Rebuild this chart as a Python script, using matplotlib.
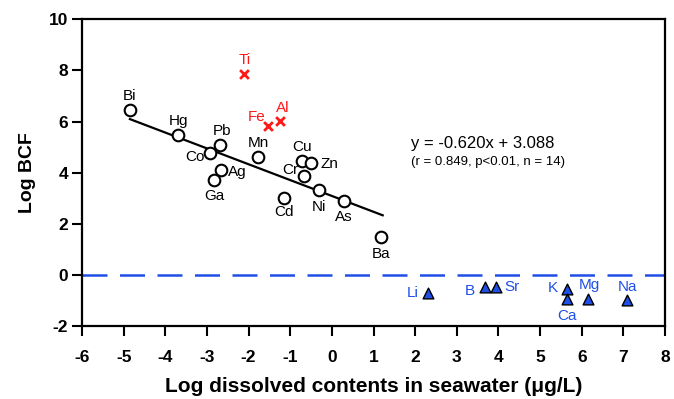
import matplotlib
matplotlib.use("Agg")
import matplotlib.pyplot as plt

plt.rcParams['font.family'] = ['Liberation Sans', 'DejaVu Sans']

# Heavy metals fitted by regression (black open circles)
fit_names = ["Bi", "Hg", "Pb", "Co", "Mn", "Ag", "Ga", "Cu", "Zn", "Cr", "Ni", "As", "Cd", "Ba"]
fit_x = [-4.85, -3.69, -2.68, -2.92, -1.77, -2.66, -2.82, -0.71, -0.49, -0.68, -0.32, 0.28, -1.16, 1.19]
fit_y = [6.45, 5.48, 5.09, 4.77, 4.62, 4.11, 3.72, 4.46, 4.38, 3.87, 3.33, 2.90, 3.01, 1.49]

# Outliers (red crosses)
out_names = ["Ti", "Fe", "Al"]
out_x = [-2.10, -1.53, -1.24]
out_y = [7.86, 5.83, 6.02]

# Major elements (blue triangles)
maj_names = ["Li", "B", "Sr", "K", "Ca", "Mg", "Na"]
maj_x = [2.30, 3.67, 3.94, 5.64, 5.64, 6.15, 7.09]
maj_y = [-0.70, -0.46, -0.46, -0.54, -0.93, -0.93, -1.00]

slope = -0.620
intercept = 3.088
fit_range = [-4.85, 1.22]

xticks = list(range(-6, 9))
yticks = list(range(-2, 11, 2))

BLUE = "#1f4fe6"
RED = "#ff1a1a"

fig = plt.figure(figsize=(6.74, 3.99), dpi=100)
ax = fig.add_axes([0.1217, 0.183, 0.865, 0.7686])

ax.axhline(0, color=BLUE, lw=1.8, dashes=(10, 5), zorder=1)

lx = fit_range
ly = [slope * v + intercept for v in lx]
ax.plot(lx, ly, color="black", lw=1.6, zorder=2)

ax.scatter(fit_x, fit_y, s=70, facecolor="white", edgecolor="black", linewidth=1.5, zorder=3)
ax.scatter(out_x, out_y, s=40, marker="x", color=RED, linewidth=2, zorder=3)
ax.scatter(maj_x, maj_y, s=60, marker="^", facecolor=BLUE, edgecolor="black", linewidth=1.0, zorder=3)

# label offsets in pixels (dx, dy, ha)
fit_off = {
    "Bi": (0, 14, "center"), "Hg": (0, 14, "center"), "Pb": (2, 14, "center"),
    "Co": (-6, -4, "right"), "Mn": (0, 14, "center"), "Ag": (7, -2, "left"),
    "Ga": (0, -16, "center"), "Cu": (0, 14, "center"), "Zn": (9, -1, "left"),
    "Cr": (-5, 6, "right"), "Ni": (0, -17, "center"), "As": (0, -16, "center"),
    "Cd": (0, -14, "center"), "Ba": (0, -17, "center"),
}
out_off = {"Ti": (0, 14, "center"), "Fe": (-12, 9, "center"), "Al": (2, 13, "center")}
maj_off = {"Li": (-9, 0, "right"), "B": (-10, -4, "right"), "Sr": (8, 0, "left"),
           "K": (-9, 1, "right"), "Ca": (0, -17, "center"), "Mg": (1, 14, "center"),
           "Na": (0, 13, "center")}

LFS = 11
for n, x, y in zip(fit_names, fit_x, fit_y):
    dx, dy, ha = fit_off[n]
    ax.annotate(n, (x, y), xytext=(dx, dy), textcoords="offset pixels",
                ha=ha, va="center", fontsize=LFS, color="black")
for n, x, y in zip(out_names, out_x, out_y):
    dx, dy, ha = out_off[n]
    ax.annotate(n, (x, y), xytext=(dx, dy), textcoords="offset pixels",
                ha=ha, va="center", fontsize=LFS, color=RED)
for n, x, y in zip(maj_names, maj_x, maj_y):
    dx, dy, ha = maj_off[n]
    ax.annotate(n, (x, y), xytext=(dx, dy), textcoords="offset pixels",
                ha=ha, va="center", fontsize=LFS, color=BLUE)

ax.text(1.89, 5.16, "y = -0.620x + 3.088", fontsize=12, va="center", ha="left")
ax.text(1.89, 4.42, "(r = 0.849, p<0.01, n = 14)", fontsize=9.5, va="center", ha="left")

ax.set_xlim(-6, 8)
ax.set_ylim(-2, 10)
ax.set_xticks(xticks)
ax.set_yticks(yticks)
ax.set_xticklabels([str(t) for t in xticks], fontweight="bold", fontsize=12.5)
ax.set_yticklabels([str(t) for t in yticks], fontweight="bold", fontsize=12.5)
ax.tick_params(direction="out", length=7, width=1.5)
ax.tick_params(axis="x", pad=10)
ax.tick_params(axis="y", pad=3)
for s in ax.spines.values():
    s.set_linewidth(1.6)

ax.set_xlabel("Log dissolved contents in seawater (μg/L)", fontsize=15, fontweight="bold", labelpad=9)
ax.set_ylabel("Log BCF", fontsize=14, fontweight="bold", labelpad=9)

fig.savefig("out.png", dpi=100)
